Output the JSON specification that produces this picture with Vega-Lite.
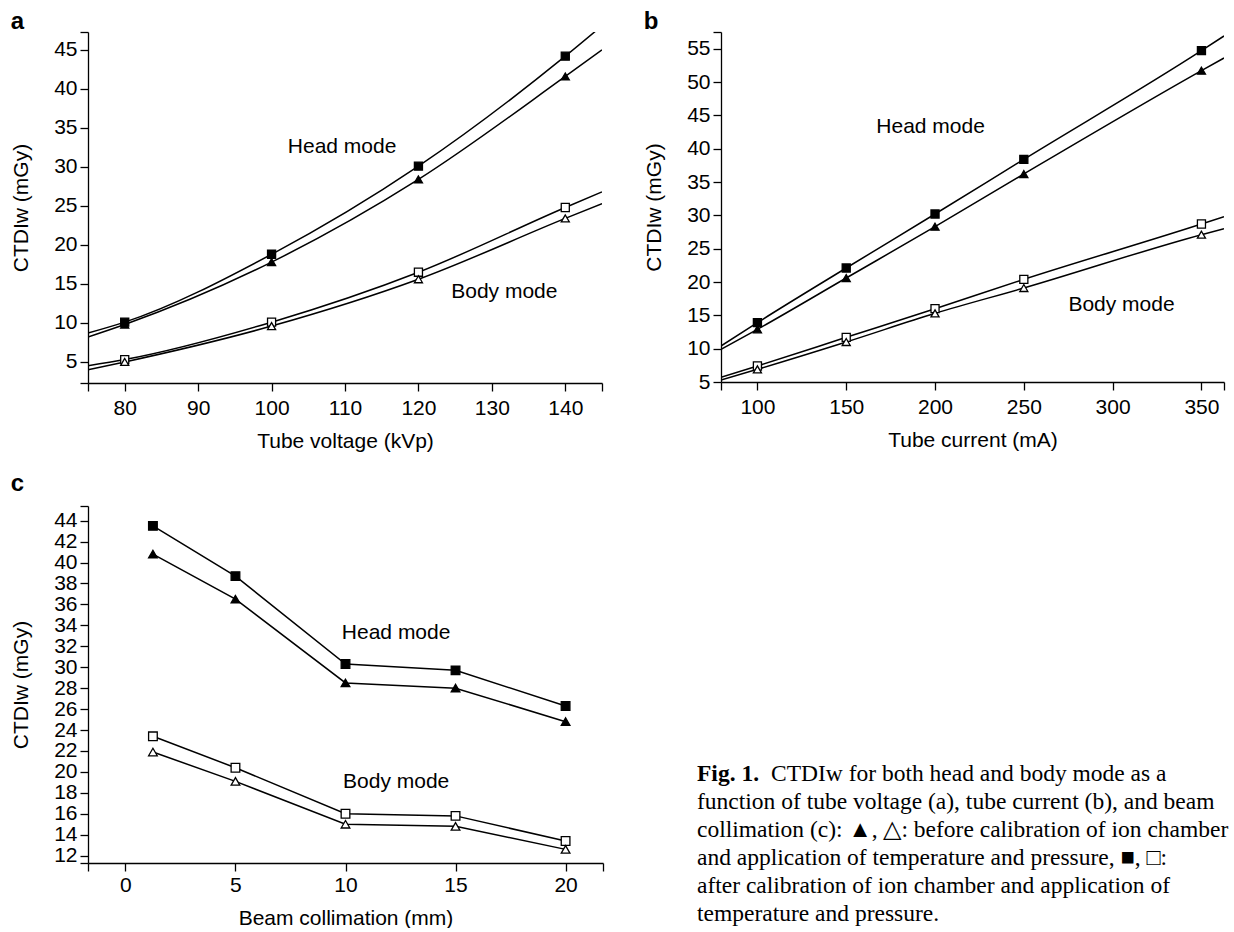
{
  "$schema": "https://vega.github.io/schema/vega-lite/v6.json",
  "padding": {"left": 10, "top": 10, "right": 0, "bottom": 0},
  "background": "white",
  "config": {
    "font": "Liberation Sans",
    "view": {"stroke": null},
    "axis": {
      "domainColor": "black", "tickColor": "black", "labelColor": "black", "titleColor": "black",
      "labelFont": "Liberation Sans", "titleFont": "Liberation Sans",
      "labelFontSize": 21, "titleFontSize": 21, "titleFontWeight": "normal",
      "tickSize": 8, "grid": false, "labelOverlap": false, "labelFlush": false,
      "domainWidth": 1.3, "tickWidth": 1.3
    },
    "axisY": {"labelPadding": 3, "titlePadding": 22},
    "axisX": {"labelPadding": 6, "titlePadding": 12},
    "title": {"font": "Liberation Sans", "fontSize": 24, "fontWeight": "bold", "anchor": "start", "frame": "bounds", "offset": -13, "color": "black"}
  },
  "datasets": {
    "a": [
      {"series": "Head after", "mode": "Head", "cal": "after", "kind": "line", "x": 75, "y": 8.7},
      {"series": "Head after", "mode": "Head", "cal": "after", "kind": "pt", "x": 80, "y": 10.1},
      {"series": "Head after", "mode": "Head", "cal": "after", "kind": "pt", "x": 100, "y": 18.8},
      {"series": "Head after", "mode": "Head", "cal": "after", "kind": "pt", "x": 120, "y": 30.1},
      {"series": "Head after", "mode": "Head", "cal": "after", "kind": "pt", "x": 140, "y": 44.2},
      {"series": "Head after", "mode": "Head", "cal": "after", "kind": "line", "x": 145, "y": 48.1},
      {"series": "Head before", "mode": "Head", "cal": "before", "kind": "line", "x": 75, "y": 8.2},
      {"series": "Head before", "mode": "Head", "cal": "before", "kind": "pt", "x": 80, "y": 9.8},
      {"series": "Head before", "mode": "Head", "cal": "before", "kind": "pt", "x": 100, "y": 17.8},
      {"series": "Head before", "mode": "Head", "cal": "before", "kind": "pt", "x": 120, "y": 28.4},
      {"series": "Head before", "mode": "Head", "cal": "before", "kind": "pt", "x": 140, "y": 41.6},
      {"series": "Head before", "mode": "Head", "cal": "before", "kind": "line", "x": 145, "y": 45.0},
      {"series": "Body after", "mode": "Body", "cal": "after", "kind": "line", "x": 75, "y": 4.5},
      {"series": "Body after", "mode": "Body", "cal": "after", "kind": "pt", "x": 80, "y": 5.3},
      {"series": "Body after", "mode": "Body", "cal": "after", "kind": "pt", "x": 100, "y": 10.1},
      {"series": "Body after", "mode": "Body", "cal": "after", "kind": "pt", "x": 120, "y": 16.5},
      {"series": "Body after", "mode": "Body", "cal": "after", "kind": "pt", "x": 140, "y": 24.8},
      {"series": "Body after", "mode": "Body", "cal": "after", "kind": "line", "x": 145, "y": 26.8},
      {"series": "Body before", "mode": "Body", "cal": "before", "kind": "line", "x": 75, "y": 4.0},
      {"series": "Body before", "mode": "Body", "cal": "before", "kind": "pt", "x": 80, "y": 5.0},
      {"series": "Body before", "mode": "Body", "cal": "before", "kind": "pt", "x": 100, "y": 9.6},
      {"series": "Body before", "mode": "Body", "cal": "before", "kind": "pt", "x": 120, "y": 15.6},
      {"series": "Body before", "mode": "Body", "cal": "before", "kind": "pt", "x": 140, "y": 23.4},
      {"series": "Body before", "mode": "Body", "cal": "before", "kind": "line", "x": 145, "y": 25.3},
      {"kind": "text", "x": 109.6, "y": 32.6, "label": "Head mode"},
      {"kind": "text", "x": 131.7, "y": 14.0, "label": "Body mode"}
    ],
    "b": [
      {"series": "Head after", "mode": "Head", "cal": "after", "kind": "line", "x": 79.5, "y": 10.4},
      {"series": "Head after", "mode": "Head", "cal": "after", "kind": "pt", "x": 100, "y": 13.9},
      {"series": "Head after", "mode": "Head", "cal": "after", "kind": "pt", "x": 150, "y": 22.1},
      {"series": "Head after", "mode": "Head", "cal": "after", "kind": "pt", "x": 200, "y": 30.2},
      {"series": "Head after", "mode": "Head", "cal": "after", "kind": "pt", "x": 250, "y": 38.4},
      {"series": "Head after", "mode": "Head", "cal": "after", "kind": "pt", "x": 350, "y": 54.7},
      {"series": "Head after", "mode": "Head", "cal": "after", "kind": "line", "x": 362.7, "y": 56.9},
      {"series": "Head before", "mode": "Head", "cal": "before", "kind": "line", "x": 79.5, "y": 9.9},
      {"series": "Head before", "mode": "Head", "cal": "before", "kind": "pt", "x": 100, "y": 12.9},
      {"series": "Head before", "mode": "Head", "cal": "before", "kind": "pt", "x": 150, "y": 20.6},
      {"series": "Head before", "mode": "Head", "cal": "before", "kind": "pt", "x": 200, "y": 28.3},
      {"series": "Head before", "mode": "Head", "cal": "before", "kind": "pt", "x": 250, "y": 36.2},
      {"series": "Head before", "mode": "Head", "cal": "before", "kind": "pt", "x": 350, "y": 51.7},
      {"series": "Head before", "mode": "Head", "cal": "before", "kind": "line", "x": 362.7, "y": 53.6},
      {"series": "Body after", "mode": "Body", "cal": "after", "kind": "line", "x": 79.5, "y": 5.7},
      {"series": "Body after", "mode": "Body", "cal": "after", "kind": "pt", "x": 100, "y": 7.4},
      {"series": "Body after", "mode": "Body", "cal": "after", "kind": "pt", "x": 150, "y": 11.7},
      {"series": "Body after", "mode": "Body", "cal": "after", "kind": "pt", "x": 200, "y": 16.0},
      {"series": "Body after", "mode": "Body", "cal": "after", "kind": "pt", "x": 250, "y": 20.4},
      {"series": "Body after", "mode": "Body", "cal": "after", "kind": "pt", "x": 350, "y": 28.7},
      {"series": "Body after", "mode": "Body", "cal": "after", "kind": "line", "x": 362.7, "y": 29.8},
      {"series": "Body before", "mode": "Body", "cal": "before", "kind": "line", "x": 79.5, "y": 5.3},
      {"series": "Body before", "mode": "Body", "cal": "before", "kind": "pt", "x": 100, "y": 6.9},
      {"series": "Body before", "mode": "Body", "cal": "before", "kind": "pt", "x": 150, "y": 11.0},
      {"series": "Body before", "mode": "Body", "cal": "before", "kind": "pt", "x": 200, "y": 15.3},
      {"series": "Body before", "mode": "Body", "cal": "before", "kind": "pt", "x": 250, "y": 19.1},
      {"series": "Body before", "mode": "Body", "cal": "before", "kind": "pt", "x": 350, "y": 27.1},
      {"series": "Body before", "mode": "Body", "cal": "before", "kind": "line", "x": 362.7, "y": 28.0},
      {"kind": "text", "x": 197.5, "y": 43.2, "label": "Head mode"},
      {"kind": "text", "x": 305, "y": 16.6, "label": "Body mode"}
    ],
    "c": [
      {"series": "Head after", "mode": "Head", "cal": "after", "kind": "pt", "x": 1.25, "y": 43.5},
      {"series": "Head after", "mode": "Head", "cal": "after", "kind": "pt", "x": 5, "y": 38.7},
      {"series": "Head after", "mode": "Head", "cal": "after", "kind": "pt", "x": 10, "y": 30.3},
      {"series": "Head after", "mode": "Head", "cal": "after", "kind": "pt", "x": 15, "y": 29.7},
      {"series": "Head after", "mode": "Head", "cal": "after", "kind": "pt", "x": 20, "y": 26.3},
      {"series": "Head before", "mode": "Head", "cal": "before", "kind": "pt", "x": 1.25, "y": 40.8},
      {"series": "Head before", "mode": "Head", "cal": "before", "kind": "pt", "x": 5, "y": 36.5},
      {"series": "Head before", "mode": "Head", "cal": "before", "kind": "pt", "x": 10, "y": 28.5},
      {"series": "Head before", "mode": "Head", "cal": "before", "kind": "pt", "x": 15, "y": 28.0},
      {"series": "Head before", "mode": "Head", "cal": "before", "kind": "pt", "x": 20, "y": 24.8},
      {"series": "Body after", "mode": "Body", "cal": "after", "kind": "pt", "x": 1.25, "y": 23.4},
      {"series": "Body after", "mode": "Body", "cal": "after", "kind": "pt", "x": 5, "y": 20.4},
      {"series": "Body after", "mode": "Body", "cal": "after", "kind": "pt", "x": 10, "y": 16.0},
      {"series": "Body after", "mode": "Body", "cal": "after", "kind": "pt", "x": 15, "y": 15.8},
      {"series": "Body after", "mode": "Body", "cal": "after", "kind": "pt", "x": 20, "y": 13.4},
      {"series": "Body before", "mode": "Body", "cal": "before", "kind": "pt", "x": 1.25, "y": 21.9},
      {"series": "Body before", "mode": "Body", "cal": "before", "kind": "pt", "x": 5, "y": 19.1},
      {"series": "Body before", "mode": "Body", "cal": "before", "kind": "pt", "x": 10, "y": 15.0},
      {"series": "Body before", "mode": "Body", "cal": "before", "kind": "pt", "x": 15, "y": 14.8},
      {"series": "Body before", "mode": "Body", "cal": "before", "kind": "pt", "x": 20, "y": 12.6},
      {"kind": "text", "x": 12.3, "y": 33.3, "label": "Head mode"},
      {"kind": "text", "x": 12.3, "y": 19.0, "label": "Body mode"}
    ],
    "caption": [
      {"line": 1, "col": 0, "bold": true, "text": "Fig. 1."},
      {"line": 1, "col": 74, "bold": false, "text": "CTDIw for both head and body mode as a"},
      {"line": 2, "col": 0, "bold": false, "text": "function of tube voltage (a), tube current (b), and beam"},
      {"line": 3, "col": 0, "bold": false, "text": "collimation (c): ▲, △: before calibration of ion chamber"},
      {"line": 4, "col": 0, "bold": false, "text": "and application of temperature and pressure, ■, □:"},
      {"line": 5, "col": 0, "bold": false, "text": "after calibration of ion chamber and application of"},
      {"line": 6, "col": 0, "bold": false, "text": "temperature and pressure."}
    ]
  },
  "vconcat": [
    {
      "hconcat": [
        {
          "width": 514, "height": 351,
          "title": {"text": "a"},
          "data": {"name": "a"},
          "encoding": {
            "x": {"field": "x", "type": "quantitative", "scale": {"domain": [75, 145], "nice": false, "zero": false},
                  "axis": {"title": "Tube voltage (kVp)", "values": [75, 80, 90, 100, 110, 120, 130, 140, 145], "labelExpr": "datum.value == 75 || datum.value == 145 ? '' : datum.label"}},
            "y": {"field": "y", "type": "quantitative", "scale": {"domain": [2.3, 47.3], "nice": false, "zero": false},
                  "axis": {"title": "CTDIw (mGy)", "values": [2.3, 5, 10, 15, 20, 25, 30, 35, 40, 45, 47.3], "labelExpr": "datum.value < 4 || datum.value > 46 ? '' : datum.label"}}
          },
          "layer": [
            {"transform": [{"filter": "datum.kind != 'text'"}],
             "mark": {"type": "line", "interpolate": "monotone", "color": "black", "strokeWidth": 1.5, "clip": true},
             "encoding": {"detail": {"field": "series"}}},
            {"transform": [{"filter": "datum.kind == 'pt'"}],
             "mark": {"type": "point", "color": "black", "opacity": 1, "strokeWidth": 1.3, "size": 65},
             "encoding": {
               "shape": {"field": "cal", "type": "nominal", "scale": {"domain": ["after", "before"], "range": ["square", "triangle-up"]}, "legend": null},
               "fill": {"field": "mode", "type": "nominal", "scale": {"domain": ["Head", "Body"], "range": ["black", "white"]}, "legend": null}
             }},
            {"transform": [{"filter": "datum.kind == 'text'"}],
             "mark": {"type": "text", "font": "Liberation Sans", "fontSize": 21, "color": "black", "align": "center", "baseline": "middle"},
             "encoding": {"text": {"field": "label"}}}
          ]
        },
        {
          "width": 503, "height": 350,
          "title": {"text": "b"},
          "data": {"name": "b"},
          "encoding": {
            "x": {"field": "x", "type": "quantitative", "scale": {"domain": [79.5, 362.7], "nice": false, "zero": false},
                  "axis": {"title": "Tube current (mA)", "values": [79.5, 100, 150, 200, 250, 300, 350, 362.7], "labelExpr": "datum.value < 90 || datum.value > 360 ? '' : datum.label"}},
            "y": {"field": "y", "type": "quantitative", "scale": {"domain": [5, 57.5], "nice": false, "zero": false},
                  "axis": {"title": "CTDIw (mGy)", "values": [5, 10, 15, 20, 25, 30, 35, 40, 45, 50, 55, 57.5], "labelExpr": "datum.value > 56 ? '' : datum.label"}}
          },
          "layer": [
            {"transform": [{"filter": "datum.kind != 'text'"}],
             "mark": {"type": "line", "interpolate": "monotone", "color": "black", "strokeWidth": 1.5, "clip": true},
             "encoding": {"detail": {"field": "series"}}},
            {"transform": [{"filter": "datum.kind == 'pt'"}],
             "mark": {"type": "point", "color": "black", "opacity": 1, "strokeWidth": 1.3, "size": 65},
             "encoding": {
               "shape": {"field": "cal", "type": "nominal", "scale": {"domain": ["after", "before"], "range": ["square", "triangle-up"]}, "legend": null},
               "fill": {"field": "mode", "type": "nominal", "scale": {"domain": ["Head", "Body"], "range": ["black", "white"]}, "legend": null}
             }},
            {"transform": [{"filter": "datum.kind == 'text'"}],
             "mark": {"type": "text", "font": "Liberation Sans", "fontSize": 21, "color": "black", "align": "center", "baseline": "middle"},
             "encoding": {"text": {"field": "label"}}}
          ]
        }
      ],
      "spacing": 40
    },
    {
      "hconcat": [
        {
          "width": 515, "height": 357,
          "title": {"text": "c", "offset": -1},
          "data": {"name": "c"},
          "encoding": {
            "x": {"field": "x", "type": "quantitative", "scale": {"domain": [-1.7, 21.7], "nice": false, "zero": false},
                  "axis": {"title": "Beam collimation (mm)", "labelPadding": 3, "values": [-1.7, 0, 5, 10, 15, 20, 21.7], "labelExpr": "datum.value < -1 || datum.value > 21 ? '' : datum.label"}},
            "y": {"field": "y", "type": "quantitative", "scale": {"domain": [11.3, 45.4], "nice": false, "zero": false},
                  "axis": {"title": "CTDIw (mGy)", "values": [11.3, 12, 14, 16, 18, 20, 22, 24, 26, 28, 30, 32, 34, 36, 38, 40, 42, 44, 45.4], "labelExpr": "datum.value < 11.9 || datum.value > 45 ? '' : datum.label"}}
          },
          "layer": [
            {"transform": [{"filter": "datum.kind != 'text'"}],
             "mark": {"type": "line", "color": "black", "strokeWidth": 1.5},
             "encoding": {"detail": {"field": "series"}}},
            {"transform": [{"filter": "datum.kind == 'pt'"}],
             "mark": {"type": "point", "color": "black", "opacity": 1, "strokeWidth": 1.3, "size": 75},
             "encoding": {
               "shape": {"field": "cal", "type": "nominal", "scale": {"domain": ["after", "before"], "range": ["square", "triangle-up"]}, "legend": null},
               "fill": {"field": "mode", "type": "nominal", "scale": {"domain": ["Head", "Body"], "range": ["black", "white"]}, "legend": null}
             }},
            {"transform": [{"filter": "datum.kind == 'text'"}],
             "mark": {"type": "text", "font": "Liberation Sans", "fontSize": 21, "color": "black", "align": "center", "baseline": "middle"},
             "encoding": {"text": {"field": "label"}}}
          ]
        },
        {
          "width": 540, "height": 420,
          "data": {"name": "caption"},
          "encoding": {
            "x": {"field": "col", "type": "quantitative", "scale": {"domain": [0, 540], "nice": false, "zero": false}, "axis": null},
            "y": {"field": "line", "type": "quantitative", "scale": {"domain": [-8.82, 6.18], "nice": false, "zero": false, "reverse": true}, "axis": null},
            "text": {"field": "text"}
          },
          "layer": [
            {"transform": [{"filter": "!datum.bold"}],
             "mark": {"type": "text", "font": "Liberation Serif", "fontSize": 23.5, "color": "black", "align": "left", "baseline": "alphabetic"}},
            {"transform": [{"filter": "datum.bold"}],
             "mark": {"type": "text", "font": "Liberation Serif", "fontSize": 23.5, "fontWeight": "bold", "color": "black", "align": "left", "baseline": "alphabetic"}}
          ]
        }
      ],
      "spacing": 93
    }
  ],
  "spacing": 21
}
